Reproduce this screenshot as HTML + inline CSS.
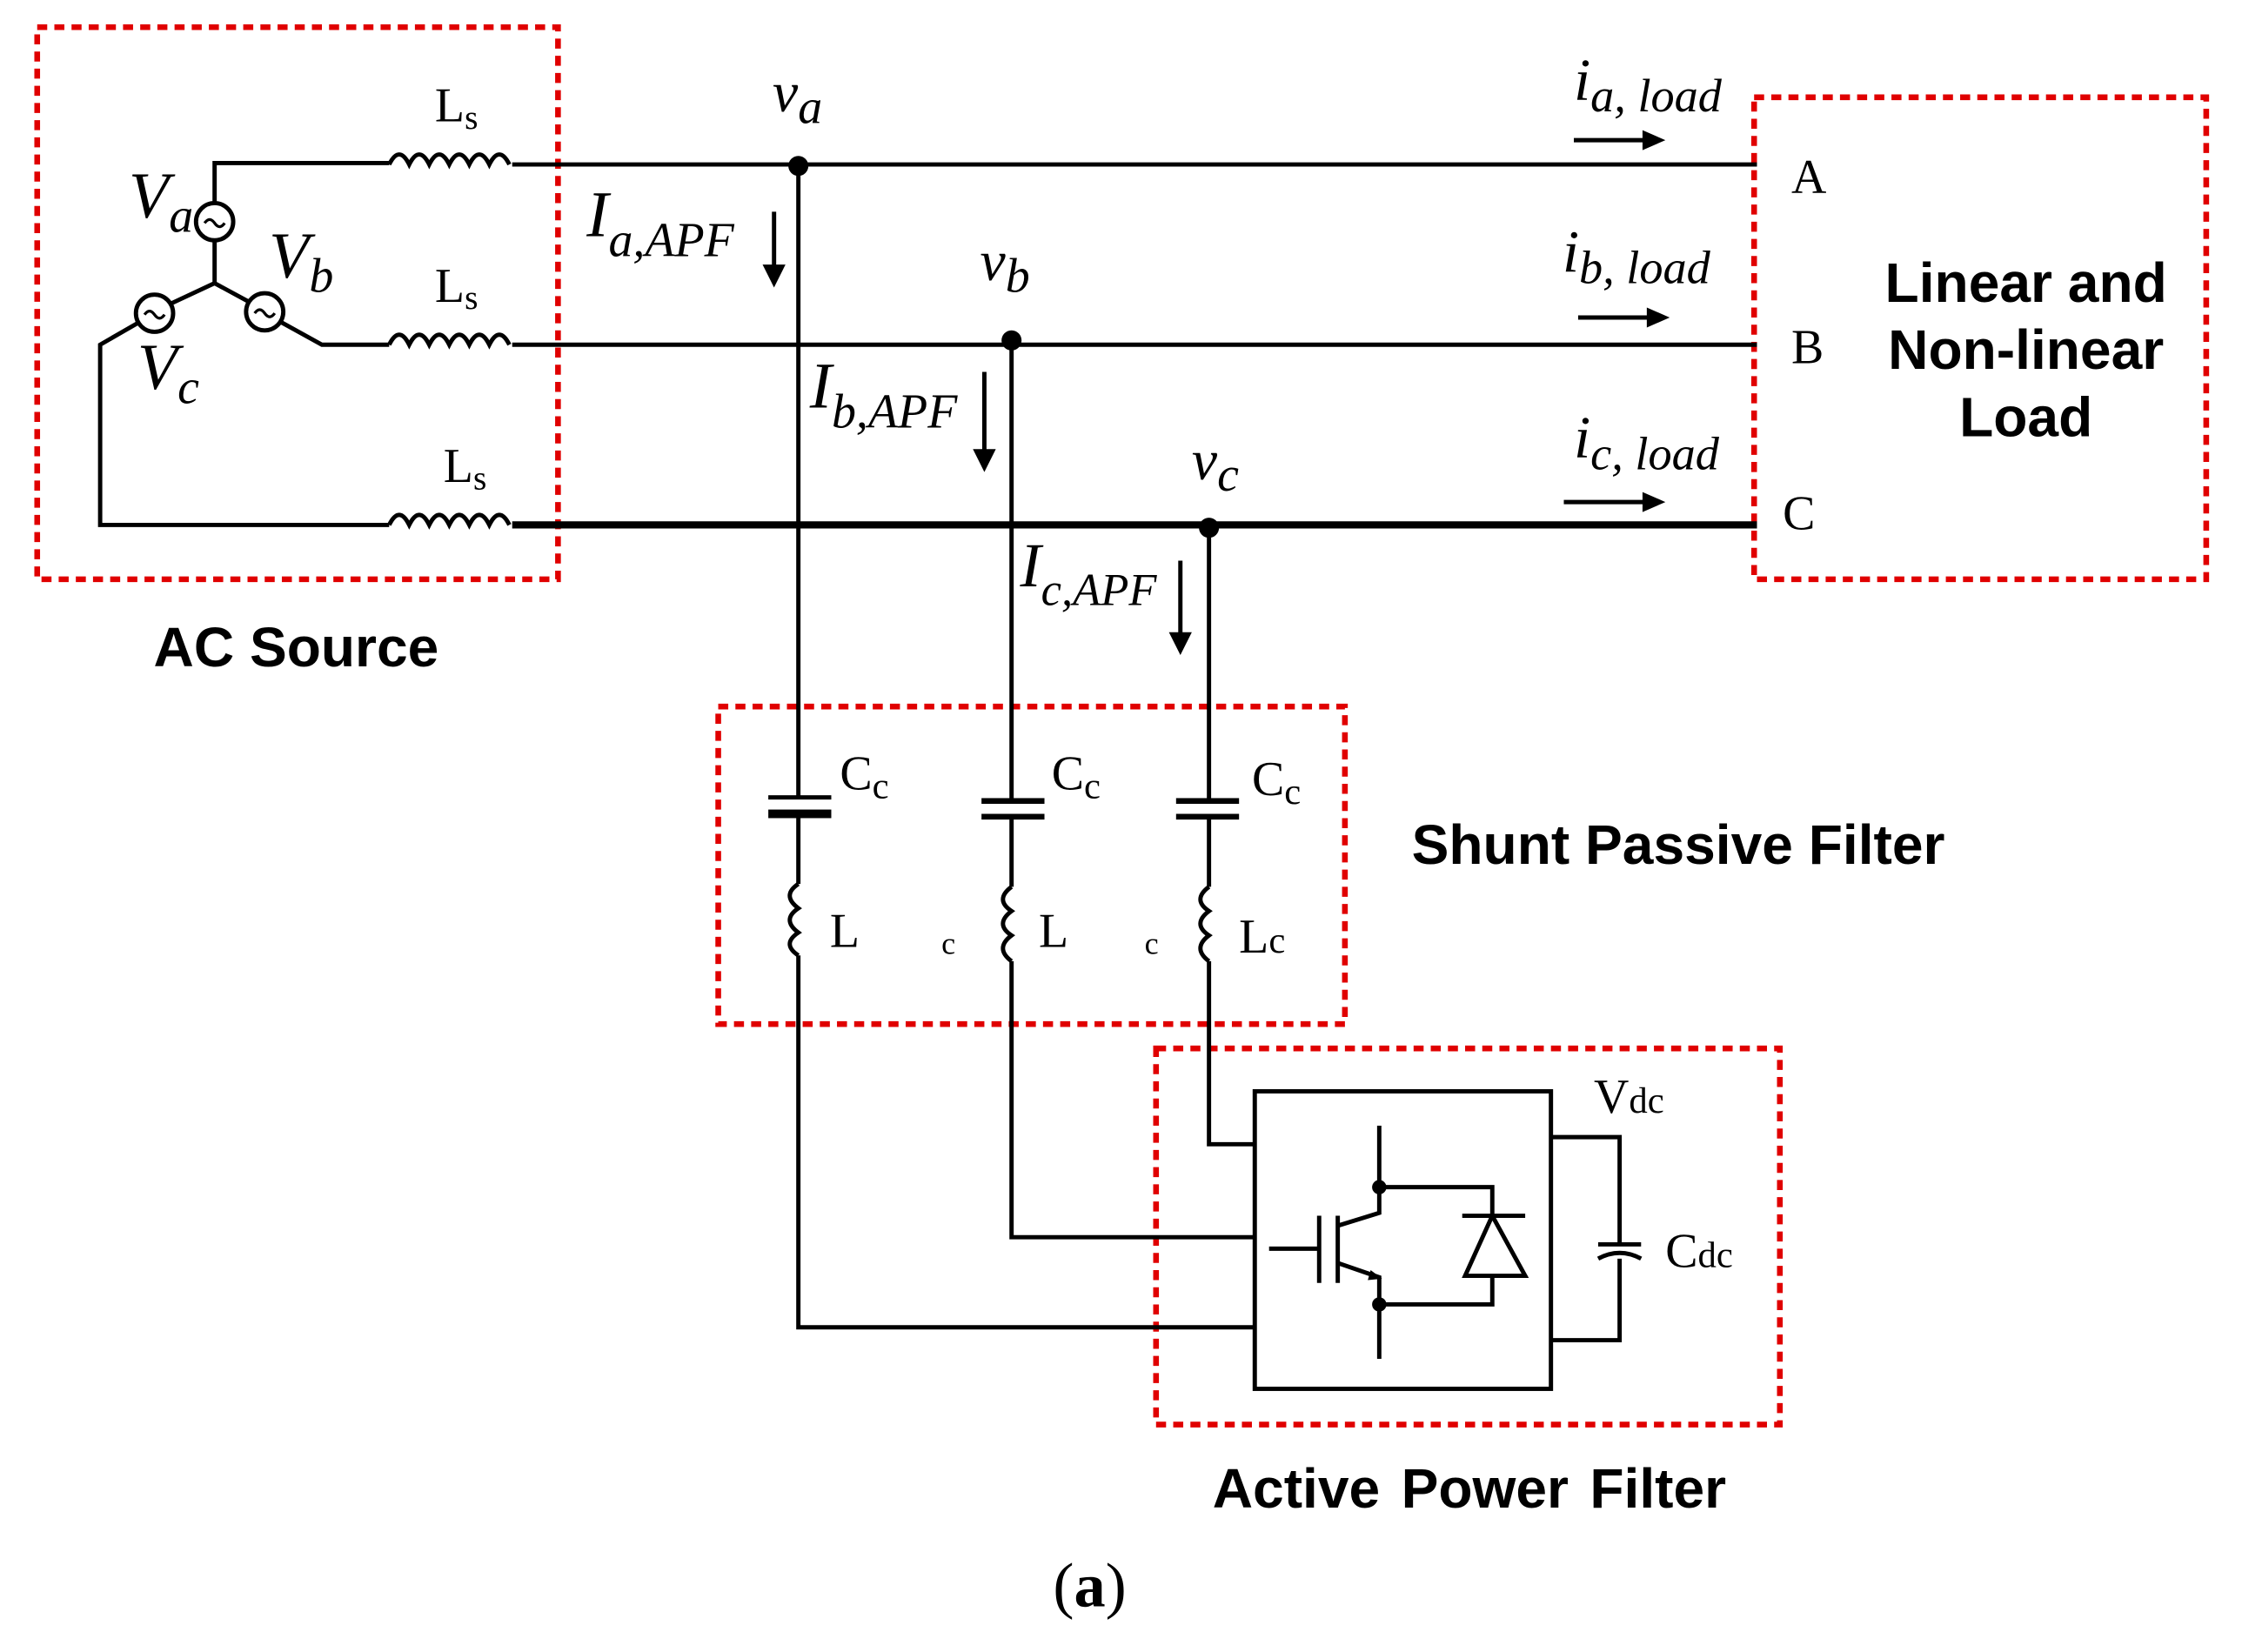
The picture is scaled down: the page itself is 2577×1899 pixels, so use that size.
<!DOCTYPE html>
<html><head><meta charset="utf-8"><style>
html,body{margin:0;padding:0;background:#fff;}
svg{display:block;}
text{font-family:"Liberation Serif",serif;fill:#000;}
.b text{font-family:"Liberation Sans",sans-serif;font-weight:bold;}
</style></head><body>
<svg width="2577" height="1899" viewBox="0 0 1567 1155" preserveAspectRatio="none" xmlns="http://www.w3.org/2000/svg">
<g fill="none" stroke="#e00000" stroke-width="4" stroke-dasharray="7,5">
<rect x="26" y="19" width="364" height="386"/>
<rect x="1226" y="68" width="316" height="337"/>
<rect x="502" y="494" width="438" height="222"/>
<rect x="808" y="733" width="436" height="263"/>
</g>
<g fill="none" stroke="#000" stroke-width="3">
<circle cx="150" cy="155" r="13"/>
<circle cx="185" cy="218" r="13"/>
<circle cx="108" cy="219" r="13"/>
<path d="M150 142V114H272M150 168V198L174 211M196 225L225 241H272M150 198L120 212M96 226L70 241V367H272"/>
<path d="M143 156q3.5-5 7 0t7 0M178 219q3.5-5 7 0t7 0M101 220q3.5-5 7 0t7 0" stroke-width="2"/>
<path d="M272 115q7-14 14 0q7-14 14 0q7-14 14 0q7-14 14 0q7-14 14 0q7-14 14 0M358 115H1228"/>
<path d="M272 241q7-14 14 0q7-14 14 0q7-14 14 0q7-14 14 0q7-14 14 0q7-14 14 0M358 241H1228"/>
<path d="M272 367q7-14 14 0q7-14 14 0q7-14 14 0q7-14 14 0q7-14 14 0q7-14 14 0"/>
<path d="M358 367H1228" stroke-width="5"/>
<path d="M558 116V558M558 571V618M558 668V928H877"/>
<path d="M707 238V561M707 571V620M707 672V865H877"/>
<path d="M845 369V561M845 571V620M845 672V800H877"/>
<path d="M558 618q-12 8 0 17q-12 8 0 17q-12 8 0 16M707 620q-12 9 0 17q-12 9 0 17q-12 9 0 18M845 620q-12 9 0 17q-12 9 0 17q-12 9 0 18"/>
<rect x="877" y="763" width="207" height="208"/>
<path d="M964 787V830H1043V850M1022 850H1066M1043 850L1024 892H1066Z M1043 892V912H964M964 912V950M964 830V848L935 857M935 850V897M922 850V897M887 873H922M935 883L964 893V912"/>
<path d="M1084 795H1132V870M1132 880V937H1084"/>
<path d="M1117 870H1147M1117 880q15-8 30 0"/>
</g>
<g fill="#000">
<rect x="537" y="556" width="44" height="3"/><rect x="537" y="566" width="44" height="6"/>
<rect x="686" y="558" width="44" height="4"/><rect x="686" y="569" width="44" height="4"/>
<rect x="822" y="558" width="44" height="4"/><rect x="822" y="569" width="44" height="4"/>
<circle cx="558" cy="116" r="7"/><circle cx="707" cy="238" r="7"/><circle cx="845" cy="369" r="7"/>
<circle cx="964" cy="830" r="5"/><circle cx="964" cy="912" r="5"/>
<path d="M958 888l8 6-10 1z"/>
</g>
<g stroke="#000" stroke-width="3" fill="#000">
<path d="M541 148V190"/><path d="M533 185l8 16 8-16z" stroke="none"/>
<path d="M688 260V318"/><path d="M680 314l8 16 8-16z" stroke="none"/>
<path d="M825 392V446"/><path d="M817 442l8 16 8-16z" stroke="none"/>
<path d="M1100 98H1150"/><path d="M1148 91l16 7-16 7z" stroke="none"/>
<path d="M1103 222H1153"/><path d="M1151 215l16 7-16 7z" stroke="none"/>
<path d="M1093 351H1150"/><path d="M1148 344l16 7-16 7z" stroke="none"/>
</g>
<g font-style="italic">
<text x="90" y="152" font-size="46">V<tspan font-size="34" dy="10">a</tspan></text>
<text x="188" y="194" font-size="46">V<tspan font-size="34" dy="10">b</tspan></text>
<text x="96" y="272" font-size="46">V<tspan font-size="34" dy="10">c</tspan></text>
<text x="540" y="78" font-size="40">v<tspan font-size="34" dy="8">a</tspan></text>
<text x="685" y="196" font-size="40">v<tspan font-size="34" dy="8">b</tspan></text>
<text x="833" y="335" font-size="40">v<tspan font-size="34" dy="8">c</tspan></text>
<text x="410" y="165" font-size="46">I<tspan font-size="34" dy="14">a,APF</tspan></text>
<text x="566" y="285" font-size="46">I<tspan font-size="34" dy="14">b,APF</tspan></text>
<text x="713" y="410" font-size="44">I<tspan font-size="32" dy="13">c,APF</tspan></text>
<text x="1100" y="70" font-size="42">i<tspan font-size="33" dy="8">a, load</tspan></text>
<text x="1092" y="190" font-size="42">i<tspan font-size="33" dy="8">b, load</tspan></text>
<text x="1100" y="320" font-size="42">i<tspan font-size="33" dy="8">c, load</tspan></text>
</g>
<g font-size="34">
<text x="304" y="85">L<tspan font-size="24" dy="5">s</tspan></text>
<text x="304" y="211">L<tspan font-size="24" dy="5">s</tspan></text>
<text x="310" y="337">L<tspan font-size="24" dy="5">s</tspan></text>
<text x="1252" y="135">A</text>
<text x="1252" y="254">B</text>
<text x="1246" y="370">C</text>
<text x="587" y="552">C<tspan font-size="26" dy="6">c</tspan></text>
<text x="735" y="552">C<tspan font-size="26" dy="6">c</tspan></text>
<text x="875" y="556">C<tspan font-size="26" dy="6">c</tspan></text>
<text x="580" y="662">L</text><text x="658" y="667" font-size="22">c</text>
<text x="726" y="662">L</text><text x="800" y="667" font-size="22">c</text>
<text x="866" y="666">L<tspan font-size="26">c</tspan></text>
<text x="1114" y="778">V<tspan font-size="26">dc</tspan></text>
<text x="1164" y="886">C<tspan font-size="26">dc</tspan></text>
<text x="736" y="1123" font-size="44">(<tspan font-weight="bold">a</tspan>)</text>
</g>
<g class="b" font-size="39">
<text x="1416" y="211" text-anchor="middle">Linear and</text>
<text x="1416" y="258" text-anchor="middle">Non-linear</text>
<text x="1416" y="305" text-anchor="middle">Load</text>
<text x="207" y="466" text-anchor="middle">AC Source</text>
<text x="1173" y="604" text-anchor="middle">Shunt Passive Filter</text>
<text x="1027" y="1054" text-anchor="middle" word-spacing="4">Active Power Filter</text>
</g>
</svg>
</body></html>
